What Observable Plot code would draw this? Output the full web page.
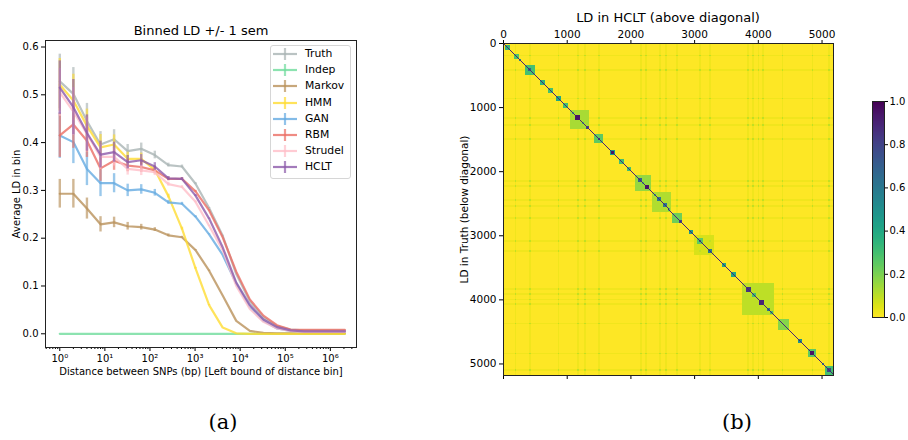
<!DOCTYPE html>
<html><head><meta charset="utf-8">
<script src="https://cdn.jsdelivr.net/npm/d3@7"></script>
<script src="https://cdn.jsdelivr.net/npm/@observablehq/plot@0.6"></script>
<style>
body{margin:0;background:#fff;}
#wrap{position:relative;width:908px;height:440px;overflow:hidden;font-family:"DejaVu Sans",sans-serif;color:#000;}
.abs{position:absolute;white-space:nowrap;}
</style></head><body><div id="wrap"></div>
<script>
// ---------- Panel (a) data ----------
const distances = [1,2,4,8,16,32,64,128,256,512,1024,2048,4096,8192,16384,32768,65536,131072,262144,524288,1048576,2097152];
const seriesNames = ["Truth","Indep","Markov","HMM","GAN","RBM","Strudel","HCLT"];
const seriesColors = ["#a9b4b4","#6fdc9c","#b9915a","#ffdc32","#64aae1","#eb6e64","#ffbec8","#8c5aaa"];
const truthLD   = [0.528,0.502,0.445,0.396,0.407,0.382,0.387,0.374,0.353,0.350,0.314,0.263,0.205,0.125,0.068,0.034,0.016,0.009,0.007,0.007,0.007,0.007];
const indepLD   = [0,0,0,0,0,0,0,0,0,0,0,0,0,0,0,0,0,0,0,0,0,0];
const markovLD  = [0.293,0.293,0.262,0.229,0.233,0.225,0.223,0.218,0.206,0.202,0.175,0.132,0.080,0.027,0.006,0.002,0.001,0.001,0.001,0.001,0.001,0.001];
const hmmLD     = [0.521,0.488,0.435,0.390,0.396,0.366,0.366,0.343,0.288,0.220,0.137,0.060,0.013,0.001,0,0,0,0,0,0,0,0];
const ganLD     = [0.415,0.401,0.345,0.315,0.315,0.300,0.302,0.295,0.275,0.272,0.245,0.208,0.165,0.105,0.056,0.027,0.011,0.006,0.005,0.005,0.005,0.005];
const rbmLD     = [0.415,0.438,0.404,0.346,0.362,0.352,0.349,0.342,0.324,0.324,0.298,0.258,0.202,0.130,0.072,0.038,0.018,0.009,0.008,0.008,0.008,0.008];
const strudelLD = [0.505,0.465,0.418,0.370,0.370,0.345,0.342,0.338,0.313,0.307,0.276,0.226,0.175,0.100,0.052,0.025,0.011,0.006,0.004,0.004,0.004,0.004];
const hcltLD    = [0.515,0.474,0.420,0.375,0.380,0.359,0.363,0.350,0.325,0.324,0.289,0.241,0.181,0.107,0.060,0.030,0.014,0.007,0.005,0.005,0.005,0.005];
const truthSem   = [0.057,0.055,0.037,0.027,0.020,0.014,0.012,0.008,0.004,0.003,0.002,0.001,0.001,0,0,0,0,0,0,0,0,0];
const indepSem   = [0,0,0,0,0,0,0,0,0,0,0,0,0,0,0,0,0,0,0,0,0,0];
const markovSem  = [0.030,0.030,0.022,0.016,0.011,0.008,0.006,0.004,0.003,0.002,0.001,0.001,0,0,0,0,0,0,0,0,0,0];
const hmmSem     = [0.055,0.055,0.035,0.027,0.020,0.014,0.012,0.008,0.004,0.003,0.002,0.001,0,0,0,0,0,0,0,0,0,0];
const ganSem     = [0.048,0.045,0.035,0.028,0.020,0.013,0.010,0.007,0.004,0.003,0.002,0.001,0,0,0,0,0,0,0,0,0,0];
const rbmSem     = [0.046,0.050,0.035,0.027,0.020,0.013,0.011,0.007,0.004,0.003,0.002,0.001,0,0,0,0,0,0,0,0,0,0];
const strudelSem = [0.050,0.050,0.035,0.026,0.019,0.013,0.011,0.007,0.004,0.003,0.002,0.001,0,0,0,0,0,0,0,0,0,0];
const hcltSem    = [0.056,0.058,0.038,0.028,0.021,0.014,0.012,0.008,0.004,0.003,0.002,0.001,0,0,0,0,0,0,0,0,0,0];
const seriesValues = [truthLD,indepLD,markovLD,hmmLD,ganLD,rbmLD,strudelLD,hcltLD];
const seriesSems = [truthSem,indepSem,markovSem,hmmSem,ganSem,rbmSem,strudelSem,hcltSem];
const xTickValues = [1,10,100,1000,10000,100000,1000000];
const xTickLabels = ["10\u2070","10\u00b9","10\u00b2","10\u00b3","10\u2074","10\u2075","10\u2076"];
const yTickValues = [0,0.1,0.2,0.3,0.4,0.5,0.6];

// ---------- Panel (b) data (LD blocks, SNP index ranges) ----------
const snpCount = 5180;
const heatTicks = [0,1000,2000,3000,4000,5000];
const ldBlocks = [
  [20,90,0.35],[150,230,0.28],[230,270,0.55],[330,480,0.30],[370,430,0.70],
  [560,640,0.35],[690,770,0.30],[820,890,0.40],[920,1000,0.30],
  [1040,1340,0.13],[1060,1100,0.35],[1220,1260,0.30],[1120,1200,0.95],[1280,1330,0.80],
  [1420,1560,0.25],[1470,1510,0.85],[1660,1740,0.45],[1680,1720,0.95],
  [1800,1880,0.30],[1930,1990,0.30],
  [2060,2300,0.16],[2080,2110,0.35],[2170,2200,0.30],[2110,2160,0.70],[2210,2270,0.95],
  [2330,2620,0.12],[2350,2390,0.35],[2580,2610,0.30],[2400,2460,0.60],[2500,2560,0.60],
  [2640,2800,0.22],[2750,2790,0.80],[2900,2960,0.45],
  [2980,3300,0.06],[3030,3130,0.25],[3060,3100,0.70],[3200,3260,0.60],
  [3420,3480,0.40],[3570,3640,0.40],
  [3740,4240,0.10],[3760,3790,0.30],[3900,3950,0.30],[4180,4220,0.30],[3800,3870,0.85],[4010,4080,0.90],[4130,4170,0.60],
  [4300,4470,0.18],[4620,4680,0.50],
  [4770,4900,0.25],[4800,4860,0.95],[4990,5030,0.50],
  [5040,5180,0.30],[5070,5140,0.80]
];
const faintStripes = [
  [170,195],[400,425],[840,865],[1150,1175],[1260,1285],[1480,1505],[2140,2165],[2220,2245],
  [2440,2465],[2530,2555],[2700,2725],[3060,3085],[3220,3245],[3820,3845],[3900,3925],
  [3980,4005],[4050,4075],[4360,4385],[4830,4855],[5090,5115]
];
const colorbarTicks = [0,0.2,0.4,0.6,0.8,1.0];

// ---------- build ----------
const wrap = document.getElementById("wrap");
function place(node, left, top){ node.style.position="absolute"; node.style.left=left+"px"; node.style.top=top+"px"; wrap.appendChild(node); return node; }
function label(text, cx, cy, css){ const d=document.createElement("div"); d.className="abs"; d.textContent=text; d.style.cssText+=css; wrap.appendChild(d); const r=d.getBoundingClientRect(); d.style.left=(cx-r.width/2)+"px"; d.style.top=(cy-r.height/2)+"px"; return d; }

// Panel (a)
const lineMarks = [];
seriesNames.forEach((name, si) => {
  const rows = distances.map((d,i)=>({x:d, v:seriesValues[si][i], s:seriesSems[si][i]}));
  lineMarks.push(Plot.line(rows,{x:"x",y:"v",stroke:seriesColors[si],strokeWidth:2.2,strokeOpacity:0.8}));
  lineMarks.push(Plot.ruleX(rows.filter(r=>r.s>0),{x:"x",y1:r=>r.v-r.s,y2:r=>r.v+r.s,stroke:seriesColors[si],strokeWidth:2.4,strokeOpacity:0.65}));
});
const xDomain = [0.482, 3.8e6];
const minorTicks = d3.scaleLog().domain(xDomain).ticks().filter(t=>!xTickValues.includes(t));
const plotA = Plot.plot({
  width:370, height:380, marginLeft:45, marginRight:14, marginTop:40, marginBottom:33,
  style:{fontFamily:"DejaVu Sans", fontSize:"10px", color:"#000", background:"transparent"},
  x:{type:"log", domain:xDomain},
  y:{domain:[-0.0287,0.6136]},
  marks:[
    ...lineMarks,
    Plot.axisX({ticks:minorTicks, tickFormat:()=>"", tickSize:2, label:null}),
    Plot.axisX({ticks:xTickValues, tickFormat:(d)=>xTickLabels[xTickValues.indexOf(d)], tickSize:4, tickPadding:3,
      label:"Distance between SNPs (bp) [Left bound of distance bin]", labelAnchor:"center", labelArrow:"none", labelOffset:27}),
    Plot.axisY({ticks:yTickValues, tickFormat:d3.format(".1f"), tickSize:4, tickPadding:3,
      label:"Average LD in bin", labelAnchor:"center", labelArrow:"none", labelOffset:33}),
    Plot.frame({stroke:"#222", strokeWidth:1})
  ]
});
place(plotA, 0, 0);
label("Binned LD +/- 1 sem", 201, 30, "font-size:13px;");

// Legend for (a)
const leg = document.createElement("div");
leg.style.cssText = "border:1px solid #d6d6d6;border-radius:3px;background:rgba(255,255,255,0.85);width:79px;height:132px;";
place(leg, 270, 45);
seriesNames.forEach((name, si) => {
  const y = 54 + si*16.2;
  const svgNS="http://www.w3.org/2000/svg";
  const s = document.createElementNS(svgNS,"svg"); s.setAttribute("width","28"); s.setAttribute("height","14");
  s.style.position="absolute"; s.style.left="271px"; s.style.top=(y-7)+"px";
  const l = document.createElementNS(svgNS,"line"); l.setAttribute("x1","2"); l.setAttribute("x2","26"); l.setAttribute("y1","7"); l.setAttribute("y2","7");
  l.setAttribute("stroke",seriesColors[si]); l.setAttribute("stroke-width","2.2"); l.setAttribute("stroke-opacity","0.8");
  const v = document.createElementNS(svgNS,"line"); v.setAttribute("x1","14"); v.setAttribute("x2","14"); v.setAttribute("y1","1"); v.setAttribute("y2","13");
  v.setAttribute("stroke",seriesColors[si]); v.setAttribute("stroke-width","2.2"); v.setAttribute("stroke-opacity","0.7");
  s.appendChild(l); s.appendChild(v); wrap.appendChild(s);
  const t = document.createElement("div"); t.className="abs"; t.textContent=name; t.style.cssText+="font-size:10.8px;line-height:13px;";
  place(t, 305, y-7);
});

// Panel (b)
const N = 330, cell = snpCount / N;
const inStripe = p => faintStripes.some(([a,b]) => p>=a && p<b);
function ldValue(i,j){
  let v = 0;
  if (Math.abs(i-j) < cell*0.5) v = 0.9;
  for (const [a,b,val] of ldBlocks) if (i>=a && i<b && j>=a && j<b) v = Math.max(v,val);
  const si = inStripe(i), sj = inStripe(j);
  if (si && sj) v = Math.max(v,0.09); else if (si || sj) v = Math.max(v,0.022);
  return v;
}
const grid = new Array(N*N);
for (let r=0;r<N;r++) for (let c=0;c<N;c++) grid[r*N+c] = ldValue((r+0.5)*cell,(c+0.5)*cell);
const ldColor = {type:"linear", scheme:"viridis", reverse:true, domain:[0,1]};
const plotB = Plot.plot({
  width:410, height:400, marginLeft:63, marginRight:17, marginTop:43, marginBottom:25,
  style:{fontFamily:"DejaVu Sans", fontSize:"10.5px", color:"#000", background:"transparent"},
  x:{domain:[0,snpCount]},
  y:{domain:[0,snpCount], reverse:true},
  color:ldColor,
  marks:[
    Plot.raster(grid,{width:N, height:N, x1:0, x2:snpCount, y1:0, y2:snpCount, fill:d=>d, imageRendering:"pixelated"}),
    Plot.axisX({anchor:"top", ticks:heatTicks, tickFormat:d=>String(d), tickSize:4, tickPadding:2, label:null}),
    Plot.axisX({anchor:"bottom", ticks:heatTicks, tickFormat:()=>"", tickSize:4, label:null}),
    Plot.axisY({anchor:"left", ticks:heatTicks, tickFormat:d=>String(d), tickSize:4, tickPadding:3,
      label:"LD in Truth (below diagonal)", labelAnchor:"center", labelArrow:"none", labelOffset:43}),
    Plot.frame({stroke:"#222", strokeWidth:1})
  ]
});
place(plotB, 440, 0);
label("LD in HCLT (above diagonal)", 668, 17, "font-size:13px;");

// Colorbar
const plotC = Plot.plot({
  width:45, height:236, marginLeft:1, marginRight:32, marginTop:10, marginBottom:10,
  style:{fontFamily:"DejaVu Sans", fontSize:"10px", color:"#000", background:"transparent"},
  x:{domain:[0,1], axis:null},
  y:{domain:[0,1]},
  color:ldColor,
  marks:[
    Plot.raster({x1:0, x2:1, y1:0, y2:1, width:1, height:216, fill:(x,y)=>y}),
    Plot.axisY({anchor:"right", ticks:colorbarTicks, tickFormat:d3.format(".1f"), tickSize:3, tickPadding:2, label:null}),
    Plot.frame({stroke:"#222", strokeWidth:1})
  ]
});
place(plotC, 871, 91);

// Captions
label("(a)", 223, 422, "font-family:'DejaVu Serif',serif;font-size:21px;");
label("(b)", 737, 422, "font-family:'DejaVu Serif',serif;font-size:21px;");
</script></body></html>
